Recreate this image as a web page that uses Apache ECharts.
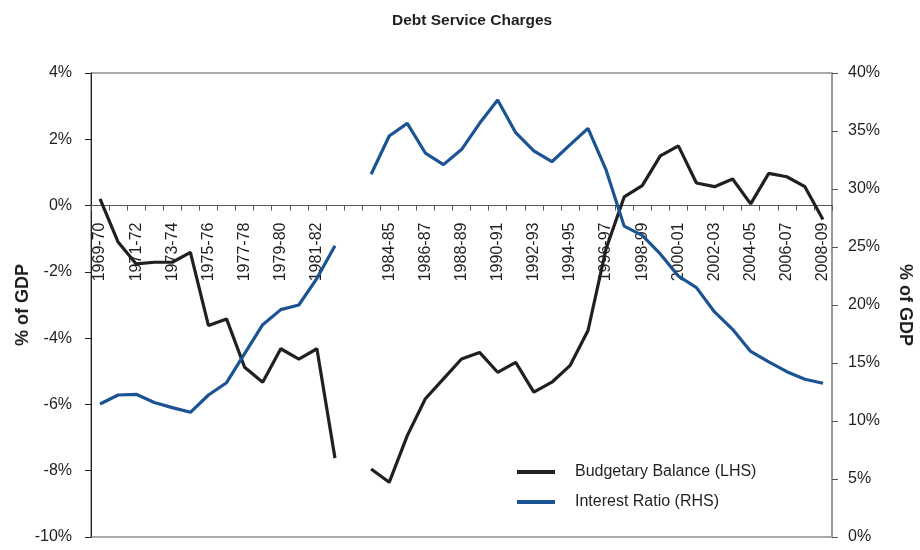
<!DOCTYPE html>
<html>
<head>
<meta charset="utf-8">
<script src="https://cdn.jsdelivr.net/npm/echarts@6/dist/echarts.min.js"></script>
<style>html,body{margin:0;padding:0;background:#fff;}#c{width:920px;height:550px;}</style>
</head>
<body>
<div id="c"></div>
<script>
var years = ['1969-70','1970-71','1971-72','1972-73','1973-74','1974-75','1975-76','1976-77','1977-78','1978-79',
  '1979-80','1980-81','1981-82','1982-83','','1983-84','1984-85','1985-86','1986-87','1987-88',
  '1988-89','1989-90','1990-91','1991-92','1992-93','1993-94','1994-95','1995-96','1996-97','1997-98',
  '1998-99','1999-00','2000-01','2001-02','2002-03','2003-04','2004-05','2005-06','2006-07','2007-08','2008-09'];
var budgetaryBalance = [0.2,-1.1,-1.76,-1.71,-1.71,-1.41,-3.62,-3.42,-4.88,-5.33,
  -4.32,-4.63,-4.32,-7.62,null,-7.95,-8.35,-6.94,-5.83,-5.23,
  -4.63,-4.43,-5.03,-4.73,-5.63,-5.33,-4.83,-3.77,-1.3,0.26,
  0.6,1.5,1.8,0.68,0.57,0.8,0.05,0.97,0.87,0.57,-0.42];
var interestRatio = [11.47,12.24,12.3,11.6,11.15,10.75,12.24,13.3,15.8,18.3,
  19.6,20.0,22.3,25.1,null,31.27,34.57,35.66,33.1,32.1,
  33.4,35.66,37.67,34.85,33.28,32.35,33.8,35.23,31.64,26.8,
  26.0,24.4,22.5,21.5,19.4,17.9,16.0,15.1,14.25,13.6,13.25];
var leftTicks = {min:-10, max:4, interval:2};
var rightTicks = {min:0, max:40, interval:5};

var FONT = "'Liberation Sans', Arial, sans-serif";
var TXT = '#231f20';
var G = {left:91, right:88, top:73, bottom:13};
var plotH = 550 - G.top - G.bottom;
var zeroFromBottom = plotH * (0 - leftTicks.min) / (leftTicks.max - leftTicks.min);

var chart = echarts.init(document.getElementById('c'), null, {renderer:'canvas'});
chart.setOption({
  animation:false,
  backgroundColor:'#fff',
  title:{text:'Debt Service Charges', left:387, top:8,
    textStyle:{fontFamily:FONT, fontSize:15.5, fontWeight:'bold', color:TXT}},
  legend:{orient:'vertical', left:512, top:459, itemGap:14, itemWidth:38, itemHeight:4, icon:'rect',
    textStyle:{fontFamily:FONT, fontSize:16, color:TXT, padding:[0,0,0,15]},
    data:['Budgetary Balance (LHS)','Interest Ratio (RHS)']},
  grid:{left:G.left, right:G.right, top:G.top, bottom:G.bottom, show:true, borderColor:'#555', borderWidth:1,
    containLabel:false, outerBoundsMode:'none'},
  xAxis:{type:'category', data:years, boundaryGap:true, position:'bottom', offset:-zeroFromBottom,
    axisLine:{onZero:false, lineStyle:{color:'#555', width:1}},
    axisTick:{show:true, interval:0, length:5, inside:false, lineStyle:{color:'#555'}},
    axisLabel:{interval:1, rotate:90, margin:17, fontFamily:FONT, fontSize:16, color:TXT},
    splitLine:{show:false}},
  yAxis:[
    {type:'value', min:leftTicks.min, max:leftTicks.max, interval:leftTicks.interval, position:'left',
     name:'% of GDP', nameLocation:'middle', nameGap:59, nameRotate:90, nameMoveOverlap:false,
     nameTextStyle:{fontFamily:FONT, fontSize:18, fontWeight:'bold', color:TXT},
     axisLine:{show:true, lineStyle:{color:'#222', width:1}},
     axisTick:{show:true, length:6, lineStyle:{color:'#222'}},
     axisLabel:{formatter:'{value}%', margin:19, fontFamily:FONT, fontSize:16, color:TXT},
     splitLine:{show:false}},
    {type:'value', min:rightTicks.min, max:rightTicks.max, interval:rightTicks.interval, position:'right',
     name:'% of GDP', nameLocation:'middle', nameGap:64, nameRotate:-90,
     nameTextStyle:{fontFamily:FONT, fontSize:18, fontWeight:'bold', color:TXT},
     axisLine:{show:true, lineStyle:{color:'#999', width:2}},
     axisTick:{show:true, length:6, lineStyle:{color:'#555'}},
     axisLabel:{formatter:'{value}%', margin:16, fontFamily:FONT, fontSize:16, color:TXT},
     splitLine:{show:false}}
  ],
  series:[
    {name:'Budgetary Balance (LHS)', type:'line', yAxisIndex:0, data:budgetaryBalance,
     symbol:'none', connectNulls:false, lineStyle:{color:'#231f20', width:3.2}, itemStyle:{color:'#231f20'}},
    {name:'Interest Ratio (RHS)', type:'line', yAxisIndex:1, data:interestRatio,
     symbol:'none', connectNulls:false, lineStyle:{color:'#1b5393', width:3.2}, itemStyle:{color:'#1b5393'}}
  ]
});
</script>
</body>
</html>
